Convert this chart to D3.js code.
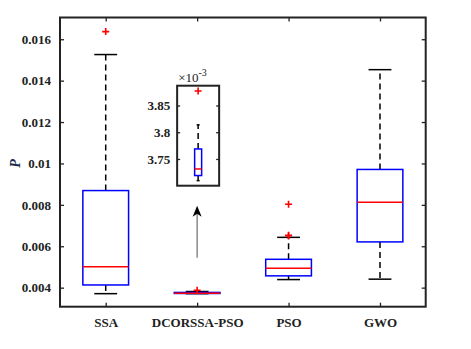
<!DOCTYPE html>
<html>
<head>
<meta charset="utf-8">
<script src="https://cdn.jsdelivr.net/npm/d3@7"></script>
<style>
  body { margin: 0; background: #fff; }
  svg text { font-family: "Liberation Serif", "Times New Roman", serif; }
</style>
</head>
<body>
<div id="chart"></div>
<script>
//Chart data
var categories = ["SSA", "DCORSSA-PSO", "PSO", "GWO"];
var whiskerLow = [0.00371, 0.0037095, 0.00439, 0.00441];
var q1 = [0.00413, 0.003719, 0.00457, 0.00621];
var median = [0.00501, 0.0037313, 0.00494, 0.00813];
var q3 = [0.00869, 0.0037687, 0.00537, 0.00971];
var whiskerHigh = [0.01526, 0.0038138, 0.00643, 0.01453];
var outliers = [[0.01637], [0.003877], [0.00803, 0.00653, 0.00651], []];
var yTicks = [0.004, 0.006, 0.008, 0.01, 0.012, 0.014, 0.016];
var insetTicks = [3.75, 3.8, 3.85];

//Chart dimensions
var W = 471, H = 349;
var plot = { left: 60, top: 17.5, right: 425.7, bottom: 306.7 };

var svg = d3.select("#chart").append("svg")
  .attr("width", W).attr("height", H);

var x = d3.scalePoint().domain(categories)
  .range([plot.left, plot.right]).padding(0.5);
var step = x.step();
var y = d3.scaleLinear().domain([0.00308, 0.01705])
  .range([plot.bottom, plot.top]);

//Axes, ticks inward
var fmt = function (d) { return String(+d.toFixed(3)); };
var axLeft = svg.append("g")
  .attr("transform", "translate(" + plot.left + ",0)")
  .call(d3.axisLeft(y).tickValues(yTicks).tickFormat(fmt).tickSizeInner(-4).tickSizeOuter(0).tickPadding(9));
var axRight = svg.append("g")
  .attr("transform", "translate(" + plot.right + ",0)")
  .call(d3.axisRight(y).tickValues(yTicks).tickFormat("").tickSizeInner(-4).tickSizeOuter(0));
var axBottom = svg.append("g")
  .attr("transform", "translate(0," + plot.bottom + ")")
  .call(d3.axisBottom(x).tickSizeInner(-4).tickSizeOuter(0).tickPadding(11));
var axTop = svg.append("g")
  .attr("transform", "translate(0," + plot.top + ")")
  .call(d3.axisTop(x).tickFormat("").tickSizeInner(-4).tickSizeOuter(0));

[axLeft, axRight, axBottom, axTop].forEach(function (g) {
  g.select(".domain").remove();
  g.attr("font-family", null);
  g.selectAll(".tick line").attr("stroke", "#222").attr("stroke-width", 1.3);
  g.selectAll(".tick text")
    .attr("fill", "#222")
    .style("font-size", "13px")
    .style("font-weight", "bold");
});

//Frame
svg.append("rect")
  .attr("x", plot.left).attr("y", plot.top)
  .attr("width", plot.right - plot.left)
  .attr("height", plot.bottom - plot.top)
  .attr("fill", "none").attr("stroke", "#222").attr("stroke-width", 2);

//Y label
svg.append("text")
  .attr("transform", "translate(20," + y(0.01) + ") rotate(-90)")
  .attr("text-anchor", "middle")
  .style("font-size", "14px")
  .style("font-weight", "bold")
  .style("font-style", "italic")
  .attr("fill", "#1a2a4a")
  .text("P");

//Draw one box plot with a given y scale
function drawBox(g, cx, boxW, capW, yy, i, scaleVal) {
  var v = function (d) { return yy(d * scaleVal); };
  //whiskers
  g.append("line")
    .attr("x1", cx).attr("x2", cx)
    .attr("y1", v(q3[i])).attr("y2", v(whiskerHigh[i]))
    .attr("stroke", "#000").attr("stroke-width", 1.5).attr("stroke-dasharray", "6,4");
  g.append("line")
    .attr("x1", cx).attr("x2", cx)
    .attr("y1", v(q1[i])).attr("y2", v(whiskerLow[i]))
    .attr("stroke", "#000").attr("stroke-width", 1.5).attr("stroke-dasharray", "6,4");
  [whiskerHigh[i], whiskerLow[i]].forEach(function (w) {
    g.append("line")
      .attr("x1", cx - capW / 2).attr("x2", cx + capW / 2)
      .attr("y1", v(w)).attr("y2", v(w))
      .attr("stroke", "#000").attr("stroke-width", 1.5);
  });
  //box
  g.append("rect")
    .attr("x", cx - boxW / 2).attr("width", boxW)
    .attr("y", v(q3[i])).attr("height", Math.max(0.5, v(q1[i]) - v(q3[i])))
    .attr("fill", "#fff").attr("stroke", "#0000ff").attr("stroke-width", 1.5);
  g.append("line")
    .attr("x1", cx - boxW / 2).attr("x2", cx + boxW / 2)
    .attr("y1", v(median[i])).attr("y2", v(median[i]))
    .attr("stroke", "#ff0000").attr("stroke-width", 1.5);
  //outliers
  outliers[i].forEach(function (o) {
    g.append("path")
      .attr("d", "M" + (cx - 3.5) + "," + v(o) + "h7M" + cx + "," + (v(o) - 3.5) + "v7")
      .attr("stroke", "#ff0000").attr("stroke-width", 1.6).attr("fill", "none");
  });
}

var boxes = svg.append("g");
categories.forEach(function (c, i) {
  drawBox(boxes, x(c), step * 0.5, step * 0.25, y, i, 1);
});

//Inset zoom for DCORSSA-PSO (values in x10^-3)
var cx2 = x("DCORSSA-PSO");
var inset = { left: cx2 - 20, right: cx2 + 22, top: 85.7, bottom: 185.7 };
var yIn = d3.scaleLinear().domain([3.70, 3.887]).range([inset.bottom, inset.top]);
var gi = svg.append("g");
gi.append("rect")
  .attr("x", inset.left).attr("y", inset.top)
  .attr("width", inset.right - inset.left).attr("height", inset.bottom - inset.top)
  .attr("fill", "#fff").attr("stroke", "#222").attr("stroke-width", 2);
var inL = gi.append("g").attr("transform", "translate(" + inset.left + ",0)")
  .call(d3.axisLeft(yIn).tickValues(insetTicks).tickFormat(function (d) { return String(d); })
    .tickSizeInner(-3).tickSizeOuter(0).tickPadding(7));
var inR = gi.append("g").attr("transform", "translate(" + inset.right + ",0)")
  .call(d3.axisRight(yIn).tickValues(insetTicks).tickFormat("").tickSizeInner(-3).tickSizeOuter(0));
[inL, inR].forEach(function (g) {
  g.select(".domain").remove();
  g.attr("font-family", null);
  g.selectAll(".tick line").attr("stroke", "#222").attr("stroke-width", 1.3);
  g.selectAll(".tick text").attr("fill", "#222")
    .style("font-size", "13px").style("font-weight", "bold");
});
drawBox(gi, (inset.left + inset.right) / 2, 7, 3, yIn, 1, 1000);
gi.append("text")
  .attr("x", inset.left + 1).attr("y", inset.top - 4)
  .style("font-size", "13px").attr("fill", "#222")
  .text("\u00d710")
  .append("tspan").attr("dy", -6).style("font-size", "10px").text("-3");

//Arrow pointing from the box up to the inset
var ay1 = y(0.00545), ay2 = inset.bottom + 20;
svg.append("line")
  .attr("x1", cx2).attr("x2", cx2).attr("y1", ay1).attr("y2", ay2 + 6)
  .attr("stroke", "#777").attr("stroke-width", 1.3);
svg.append("path")
  .attr("d", "M" + cx2 + "," + ay2 + "L" + (cx2 - 4.5) + "," + (ay2 + 11) + "L" + cx2 + "," + (ay2 + 8) + "L" + (cx2 + 4.5) + "," + (ay2 + 11) + "Z")
  .attr("fill", "#000");
</script>
</body>
</html>
